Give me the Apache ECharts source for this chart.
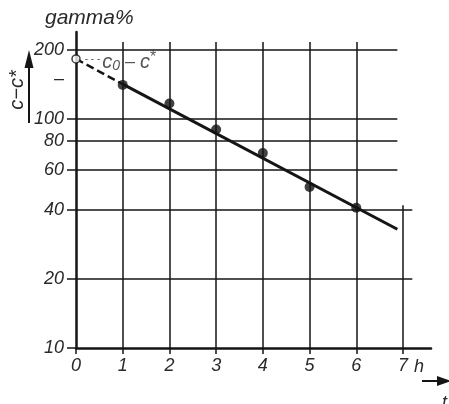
<!DOCTYPE html>
<html><head><meta charset="utf-8">
<script src="https://cdn.jsdelivr.net/npm/echarts@6/dist/echarts.min.js"></script>
<style>html,body{margin:0;padding:0;background:#fff}#c{width:449px;height:404px}</style>
</head><body><div id="c"></div>
<script>
// Data
const hours = [1, 2, 3, 4, 5, 6];
const gammaPct = [141, 117, 90, 71, 50.5, 41];
const startHour = 0;
const startValue = 183;          // c0 - c* (open circle)
const fitDashed = [[0, 183], [1, 142]];
const fitSolid = [[1, 142], [6.88, 33]];
const yTickValues = [10, 20, 40, 60, 80, 100, 200];
const yLabelValues = [10, 20, 40, 60, 80, 100, 150, 200];
const xTickValues = [0, 1, 2, 3, 4, 5, 6, 7];
// grid segments (data coordinates)
const hGrid = [[200, 6.88], [100, 6.88], [80, 6.88], [60, 6.88], [40, 7.2], [20, 7.2]];
const vGrid = [[1, 217], [2, 217], [3, 217], [4, 217], [5, 217], [6, 217], [7, 42]];

const FONT = 'Liberation Sans';
const TXT = '#2a2a2a';
const LINE = '#151515';

const gridSegs = [];
hGrid.forEach(h => gridSegs.push({coords: [[0, h[0]], [h[1], h[0]]]}));
vGrid.forEach(v => gridSegs.push({coords: [[v[0], 10], [v[0], v[1]]]}));

const chart = echarts.init(document.getElementById('c'), null, {renderer: 'canvas'});
chart.setOption({
  animation: false,
  backgroundColor: '#fff',
  title: {
    text: 'gamma%', left: 40, top: 3,
    textStyle: {fontFamily: FONT, fontStyle: 'italic', fontWeight: 'normal', fontSize: 21, color: TXT}
  },
  grid: {left: 76, right: 18, top: 32, bottom: 56, containLabel: false},
  xAxis: {
    type: 'value', min: 0, max: 7.6,
    axisLine: {onZero: false, lineStyle: {color: LINE, width: 2.5}},
    axisTick: {customValues: xTickValues, length: 6, lineStyle: {color: LINE, width: 1.5}},
    axisLabel: {customValues: xTickValues, margin: 9, fontFamily: FONT, fontStyle: 'italic', fontSize: 18, color: TXT},
    splitLine: {show: false}
  },
  yAxis: {
    type: 'log', logBase: 10, min: 10, max: 240,
    axisLine: {onZero: false, lineStyle: {color: LINE, width: 2.5}},
    axisTick: {customValues: yTickValues, length: 9, lineStyle: {color: LINE, width: 1.5}},
    axisLabel: {
      customValues: yLabelValues, margin: 12, fontFamily: FONT, fontStyle: 'italic', fontSize: 18, color: TXT,
      formatter: v => (Math.abs(v - 150) < 1e-6 ? '–' : String(Math.round(v)))
    },
    splitLine: {show: false}
  },
  series: [
    {
      type: 'lines', coordinateSystem: 'cartesian2d', silent: true, z: 1,
      lineStyle: {color: LINE, width: 1.5, opacity: 1},
      data: gridSegs
    },
    {
      type: 'line', data: fitDashed, symbol: 'none', z: 3,
      lineStyle: {color: LINE, width: 2.5, type: [8, 4]}
    },
    {
      type: 'line', data: fitSolid, symbol: 'none', z: 3,
      lineStyle: {color: LINE, width: 3}
    },
    {
      type: 'scatter', data: hours.map((h, i) => [h, gammaPct[i]]), z: 4,
      symbol: 'circle', symbolSize: 10, itemStyle: {color: '#111'}
    },
    {
      type: 'scatter', data: [[startHour, startValue]], z: 5,
      symbol: 'circle', symbolSize: 8,
      itemStyle: {color: '#fff', borderColor: '#111', borderWidth: 1.5},
      label: {
        show: true, position: 'right', distance: 4, offset: [0, 3],
        formatter: '{d|- - -}{c|c}{s|0}{m| – }{c|c}{st|*}',
        rich: {
          d: {fontFamily: FONT, fontSize: 10, color: TXT, padding: [0, 2, 6, 0]},
          c: {fontFamily: FONT, fontStyle: 'italic', fontSize: 20, color: TXT},
          m: {fontFamily: FONT, fontSize: 18, color: TXT},
          s: {fontFamily: FONT, fontStyle: 'italic', fontSize: 14, color: TXT, padding: [8, 0, 0, 0]},
          st: {fontFamily: FONT, fontSize: 16, color: TXT, padding: [0, 0, 8, 0]}
        }
      }
    }
  ],
  graphic: [
    {type: 'text', x: 17, y: 90, rotation: Math.PI / 2,
      style: {text: 'c−c*', fontFamily: FONT, fontStyle: 'italic', fontSize: 20, fill: TXT, align: 'center', verticalAlign: 'middle'}},
    {type: 'line', shape: {x1: 29, y1: 123, x2: 29, y2: 64}, style: {stroke: LINE, lineWidth: 2}},
    {type: 'polygon', shape: {points: [[29, 50], [24.5, 68], [33.5, 68]]}, style: {fill: LINE}},
    {type: 'text', x: 414, y: 358,
      style: {text: 'h', fontFamily: FONT, fontStyle: 'italic', fontSize: 18, fill: TXT}},
    {type: 'line', shape: {x1: 422, y1: 381, x2: 440, y2: 381}, style: {stroke: LINE, lineWidth: 2}},
    {type: 'polygon', shape: {points: [[451, 381], [437, 376], [437, 386]]}, style: {fill: LINE}},
    {type: 'text', x: 442, y: 394,
      style: {text: 't', fontFamily: FONT, fontStyle: 'italic', fontSize: 18, fill: TXT}}
  ]
});
</script></body></html>
